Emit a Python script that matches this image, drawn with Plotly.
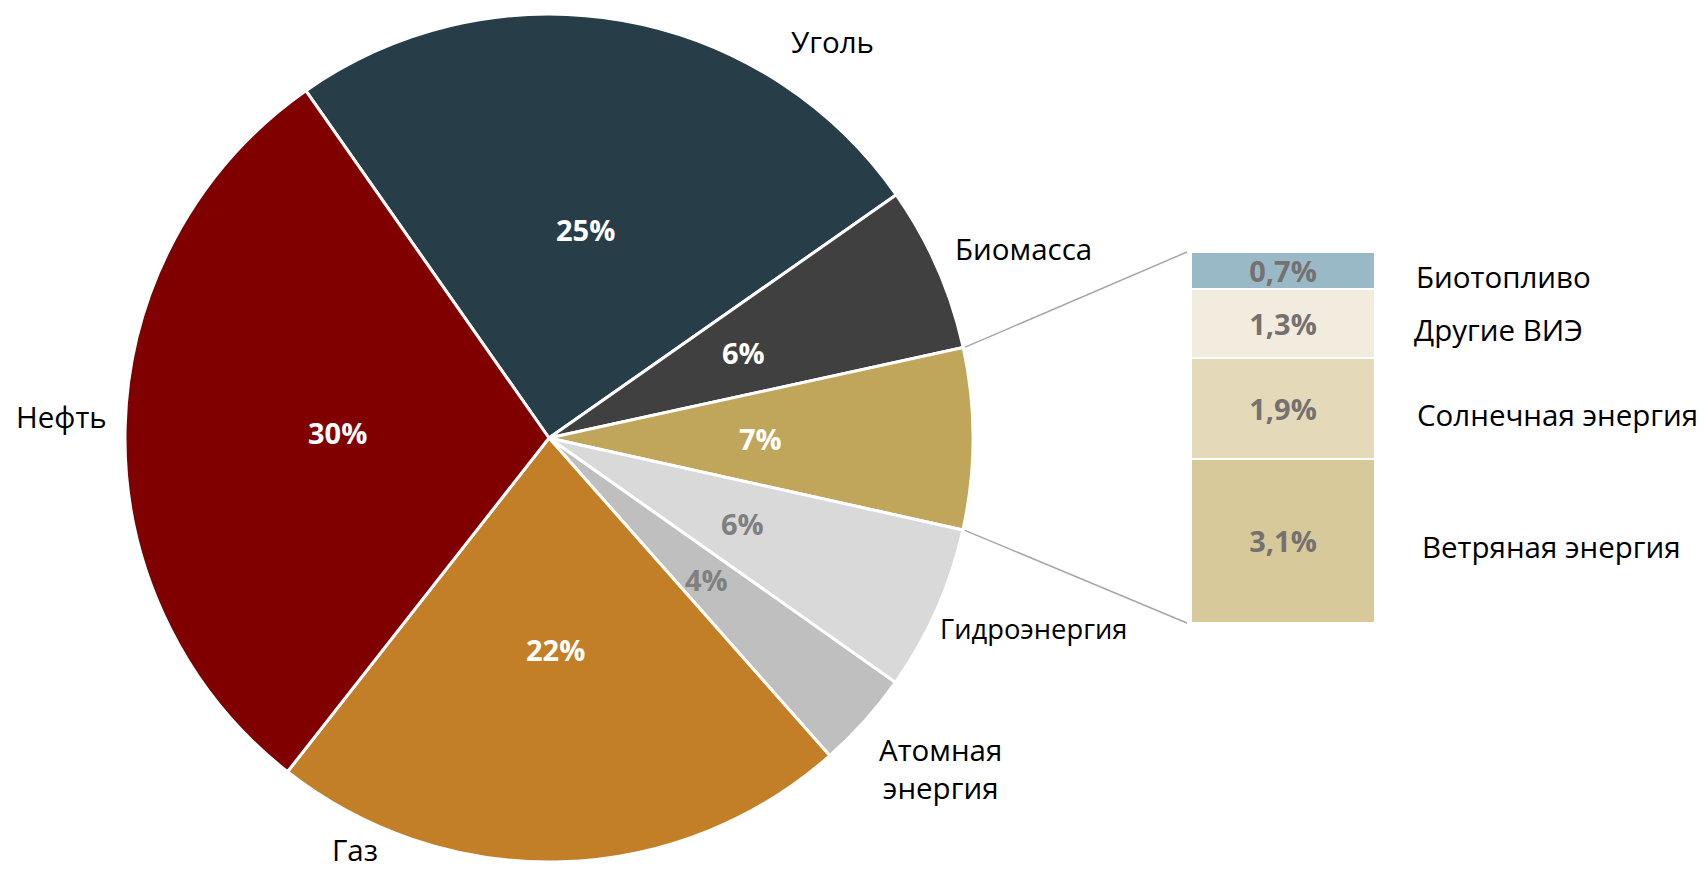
import math
import plotly.graph_objects as go

# ---------------- data ----------------
labels = ["Уголь", "Биомасса", "ВИЭ", "Гидроэнергия", "Атомная энергия", "Газ", "Нефть"]
values = [25.0, 6.3, 6.9, 6.3, 3.7, 22.1, 29.7]
pct_text = ["25%", "6%", "7%", "6%", "4%", "22%", "30%"]

sub_labels = ["Биотопливо", "Другие ВИЭ", "Солнечная энергия", "Ветряная энергия"]
sub_values = [0.7, 1.3, 1.9, 3.1]
sub_text = ["0,7%", "1,3%", "1,9%", "3,1%"]

# ---------------- styles ----------------
colors = ["#273E49", "#404040", "#BFA65A", "#D9D9D9", "#BFBFBF", "#C27F28", "#800000"]
pct_colors = ["white", "white", "white", "#7F7F7F", "#7F7F7F", "white", "white"]
sub_colors = ["#99B9C7", "#F2ECDF", "#E4DABA", "#D8C99A"]
FONT = "Open Sans"
GRAY_TXT = "#767171"
LBL_SIZE = 29.5
PCT_SIZE = 29

W, H = 1704, 872
CX, CY, R = 549, 438, 424          # pie centre / radius in px
ROT = -35                           # start angle of first slice
BAR_X0, BAR_X1 = 1191, 1375         # sub-bar horizontal extent in px
BAR_Y0, BAR_Y1 = 252, 623           # sub-bar vertical extent in px (top, bottom)

# outside label positions (px) for the pie categories: x, y, text, font size, y-anchor
label_pos = {
    "Уголь": (832, 42, "Уголь", LBL_SIZE, "middle"),
    "Биомасса": (1023, 248, "Биомасса", LBL_SIZE, "middle"),
    "Нефть": (61, 416, "Нефть", LBL_SIZE, "middle"),
    "Гидроэнергия": (1033, 628, "Гидроэнергия", 27.3, "middle"),
    "Атомная энергия": (941, 768, "Атомная<br>энергия", LBL_SIZE, "middle"),
    "Газ": (355, 872, "Газ", LBL_SIZE, "bottom"),
}
sub_label_x = [1414, 1412, 1415, 1420]


def px(x):
    return x / W


def py(y):
    return 1 - y / H


fig = go.Figure()

fig.add_trace(go.Pie(
    labels=labels,
    values=values,
    sort=False,
    direction="clockwise",
    rotation=ROT,
    marker=dict(colors=colors, line=dict(color="white", width=3)),
    textinfo="none",
    hoverinfo="label+percent",
    showlegend=False,
    domain=dict(x=[px(CX - R), px(CX + R)], y=[py(CY + R), py(CY - R)]),
))

# stacked sub-bar (bottom to top)
for lab, val, txt, col in list(zip(sub_labels, sub_values, sub_text, sub_colors))[::-1]:
    fig.add_trace(go.Bar(
        x=[0], y=[val], width=1,
        name=lab, text=[txt], textposition="inside", insidetextanchor="middle",
        constraintext="none",
        textfont=dict(family=FONT, size=PCT_SIZE, color=GRAY_TXT, weight="bold"),
        marker=dict(color=col, line=dict(color="white", width=2)),
        showlegend=False, hoverinfo="name+text",
    ))

annotations = []
total = sum(values)
cum = 0
for lab, val, txt, tc in zip(labels, values, pct_text, pct_colors):
    mid = math.radians(ROT + 360 * (cum + val / 2) / total)
    x = CX + 0.5 * R * math.sin(mid)
    y = CY - 0.5 * R * math.cos(mid)
    annotations.append(dict(
        x=px(x), y=py(y), xref="paper", yref="paper", text=txt, showarrow=False,
        xanchor="center", yanchor="middle",
        font=dict(family=FONT, size=PCT_SIZE, color=tc, weight="bold"),
    ))
    cum += val

for lab, (x, y, t, fs, ya) in label_pos.items():
    annotations.append(dict(
        x=px(x), y=py(y), xref="paper", yref="paper", text=t, showarrow=False,
        xanchor="center", yanchor=ya, align="center",
        font=dict(family=FONT, size=fs, color="black"),
    ))

cum = sum(sub_values)
for lab, val, xx in zip(sub_labels, sub_values, sub_label_x):
    center = cum - val / 2
    annotations.append(dict(
        x=px(xx), y=center, xref="paper", yref="y", text=lab, showarrow=False,
        xanchor="left", yanchor="middle", yshift=-6,
        font=dict(family=FONT, size=LBL_SIZE, color="black"),
    ))
    cum -= val

# connector lines from the renewables slice to the sub-bar
shapes = []
a0 = math.radians(ROT + 360 * sum(values[:2]) / total)
a1 = math.radians(ROT + 360 * sum(values[:3]) / total)
for ang, ytarget in ((a0, BAR_Y0), (a1, BAR_Y1)):
    sx = CX + (R + 2) * math.sin(ang)
    sy = CY - (R + 2) * math.cos(ang)
    shapes.append(dict(
        type="line", xref="paper", yref="paper",
        x0=px(sx), y0=py(sy), x1=px(BAR_X0 - 4), y1=py(ytarget),
        line=dict(color="#A6A6A6", width=1.5),
    ))

fig.update_layout(
    width=W, height=H,
    margin=dict(l=0, r=0, t=0, b=0),
    paper_bgcolor="white", plot_bgcolor="white",
    barmode="stack",
    xaxis=dict(domain=[px(BAR_X0), px(BAR_X1)], range=[-0.5, 0.5], visible=False),
    yaxis=dict(domain=[py(BAR_Y1), py(BAR_Y0)], range=[0, sum(sub_values)], visible=False),
    annotations=annotations,
    shapes=shapes,
    font=dict(family=FONT),
)

fig.write_html("out.html",
               config={"displayModeBar": False},
               post_script="document.body.style.margin='0';document.body.style.overflow='hidden';")
